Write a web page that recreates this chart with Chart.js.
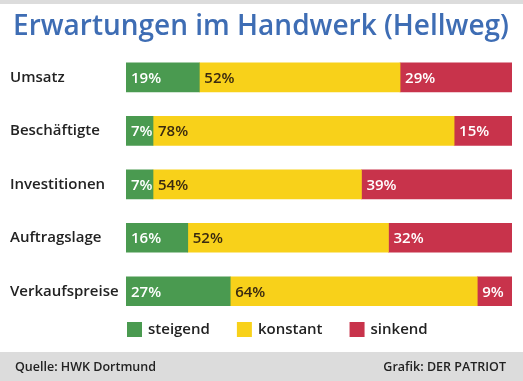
<!DOCTYPE html>
<html lang="de">
<head>
    <meta charset="UTF-8">
    <title>Erwartungen im Handwerk (Hellweg)</title>
    <script src="https://cdn.jsdelivr.net/npm/chart.js"></script>
    <style>
        * { margin: 0; padding: 0; box-sizing: border-box; }
        body { background: #fff; width: 523px; height: 381px; overflow: hidden; }
        #wrap { position: relative; width: 523px; height: 381px; }
    </style>
</head>
<body>
    <div id="wrap"><canvas id="myChart"></canvas></div>
    <script>
        const categories = ['Umsatz', 'Beschäftigte', 'Investitionen', 'Auftragslage', 'Verkaufspreise'];
        const steigend = [19, 7, 7, 16, 27];
        const konstant = [52, 78, 54, 52, 64];
        const sinkend = [29, 15, 39, 32, 9];
        const seriesNames = ['steigend', 'konstant', 'sinkend'];
        const source = 'Quelle: HWK Dortmund';
        const credit = 'Grafik: DER PATRIOT';

        const FONT = '"Open Sans", sans-serif';
        const colors = ['#4a9a50', '#f8d11a', '#c8334b'];
        const labelColors = ['#ffffff', '#3a2a10', '#ffffff'];

        // value labels inside the bar segments, left aligned
        const valueLabels = {
            id: 'valueLabels',
            afterDatasetsDraw(chart) {
                const ctx = chart.ctx;
                ctx.save();
                ctx.font = '600 15px ' + FONT;
                ctx.textBaseline = 'middle';
                ctx.textAlign = 'left';
                chart.data.datasets.forEach((ds, i) => {
                    const meta = chart.getDatasetMeta(i);
                    meta.data.forEach((bar, j) => {
                        ctx.fillStyle = labelColors[i];
                        ctx.fillText(ds.data[j] + '%', Math.min(bar.base, bar.x) + 5, bar.y + 1);
                    });
                });
                ctx.restore();
            }
        };

        // legend row, footer band and top strip
        const decorations = {
            id: 'decorations',
            beforeDraw(chart) {
                const ctx = chart.ctx;
                ctx.save();
                ctx.fillStyle = '#dcdcdc';
                ctx.fillRect(0, 0, chart.width, 4);
                ctx.fillRect(0, 352, chart.width, chart.height - 352);
                ctx.restore();
            },
            afterDraw(chart) {
                const ctx = chart.ctx;
                const area = chart.chartArea;
                ctx.save();
                // legend
                ctx.font = '600 15px ' + FONT;
                ctx.textBaseline = 'middle';
                let x = area.left + 1;
                const y = 322;
                chart.data.datasets.forEach((ds, i) => {
                    ctx.fillStyle = ds.backgroundColor;
                    ctx.fillRect(x, y, 15, 15);
                    ctx.fillStyle = '#222';
                    ctx.fillText(ds.label, x + 21, y + 7.5);
                    x += 21 + ctx.measureText(ds.label).width + 27;
                });
                // footer
                ctx.font = '600 12.5px ' + FONT;
                ctx.fillStyle = '#222';
                ctx.textAlign = 'left';
                ctx.fillText(source, 15, 367);
                ctx.textAlign = 'right';
                ctx.fillText(credit, 506, 367);
                ctx.restore();
            }
        };

        const ctx = document.getElementById('myChart').getContext('2d');
        new Chart(ctx, {
            type: 'bar',
            data: {
                labels: categories,
                datasets: [
                    { label: seriesNames[0], data: steigend, backgroundColor: colors[0] },
                    { label: seriesNames[1], data: konstant, backgroundColor: colors[1] },
                    { label: seriesNames[2], data: sinkend, backgroundColor: colors[2] }
                ]
            },
            options: {
                indexAxis: 'y',
                responsive: true,
                maintainAspectRatio: false,
                animation: false,
                barThickness: 29,
                layout: {
                    padding: { left: 10, right: 11, top: 0, bottom: 63 }
                },
                scales: {
                    x: {
                        stacked: true,
                        min: 0,
                        max: 100,
                        display: false
                    },
                    y: {
                        stacked: true,
                        grid: { display: false },
                        border: { display: false },
                        afterFit(scale) { scale.width = 116; },
                        ticks: {
                            crossAlign: 'far',
                            color: '#222',
                            font: { family: FONT, size: 15, weight: '600' }
                        }
                    }
                },
                plugins: {
                    legend: { display: false },
                    tooltip: { enabled: false },
                    title: {
                        display: true,
                        text: 'Erwartungen im Handwerk (Hellweg)',
                        color: '#3e6db4',
                        font: { family: FONT, size: 28, weight: '600', lineHeight: 1.2 },
                        padding: { top: 10, bottom: 7 }
                    }
                }
            },
            plugins: [valueLabels, decorations]
        });
    </script>
</body>
</html>
